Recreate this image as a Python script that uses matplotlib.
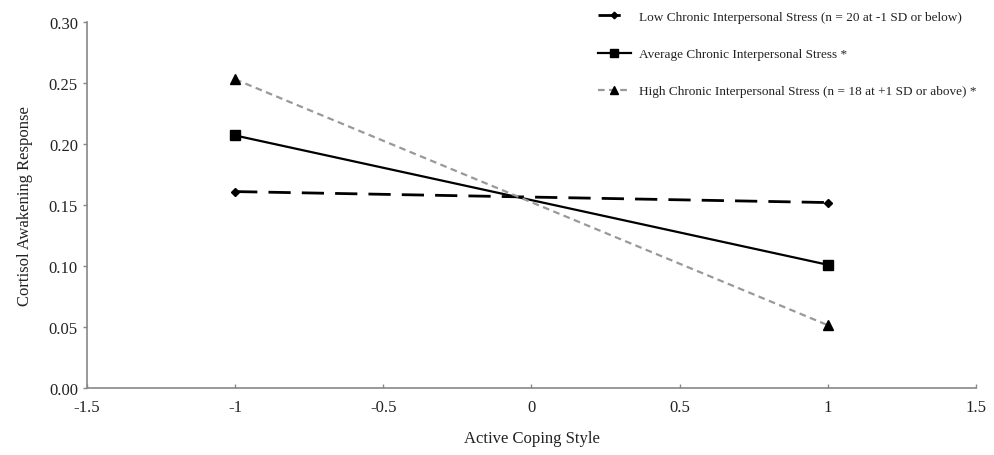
import matplotlib
matplotlib.use("Agg")
import matplotlib.pyplot as plt

plt.rcParams['font.family'] = ['Liberation Serif', 'DejaVu Serif']

x_vals = [-1, 1]
low = [0.161, 0.152]
avg = [0.207, 0.101]
high = [0.253, 0.0515]
labels = ["Low Chronic Interpersonal Stress (n = 20 at -1 SD or below)",
          "Average Chronic Interpersonal Stress *",
          "High Chronic Interpersonal Stress (n = 18 at +1 SD or above) *"]
xticks = [-1.5, -1, -0.5, 0, 0.5, 1, 1.5]
xticklabels = ["-1.5", "-1", "-0.5", "0", "0.5", "1", "1.5"]
yticks = [0.00, 0.05, 0.10, 0.15, 0.20, 0.25, 0.30]

fig = plt.figure(figsize=(9.95, 4.56), dpi=100)
ax = fig.add_axes([0.0874, 0.1469, 0.8935, 0.8027])

ax.plot(x_vals, low, color='black', lw=2, dashes=(8, 4), marker='D', markersize=4.5, label=labels[0])
ax.plot(x_vals, avg, color='black', lw=1.6, marker='s', markersize=7, label=labels[1])
ax.plot(x_vals, high, color='#999999', lw=1.6, dashes=(3, 2), marker='^', markersize=7,
        markerfacecolor='black', markeredgecolor='black', label=labels[2])

ax.set_xlim(-1.5, 1.5)
ax.set_ylim(0, 0.30)
ax.set_xticks(xticks)
ax.set_xticklabels(xticklabels)
ax.set_yticks(yticks)
ax.set_yticklabels([f"{v:.2f}" for v in yticks])
ax.tick_params(labelsize=12, colors='#888888', labelcolor='#222222', length=3, width=1)
ax.tick_params(axis='x', direction='in', length=3, pad=8)
for s in ['top', 'right']:
    ax.spines[s].set_visible(False)
for s in ['left', 'bottom']:
    ax.spines[s].set_color('#888888')
    ax.spines[s].set_linewidth(1.2)

ax.set_xlabel("Active Coping Style", fontsize=12, color='#222222', labelpad=11)
ax.set_ylabel("Cortisol Awakening Response", fontsize=12, color='#222222', labelpad=11)

leg = fig.legend(loc='upper right', bbox_to_anchor=(0.993, 1.0), frameon=False, fontsize=9.5,
                 labelspacing=1.88, handlelength=2.5, handletextpad=0.6, markerscale=0.75)
for t in leg.get_texts():
    t.set_color('#222222')

fig.savefig("out.png", dpi=100)
